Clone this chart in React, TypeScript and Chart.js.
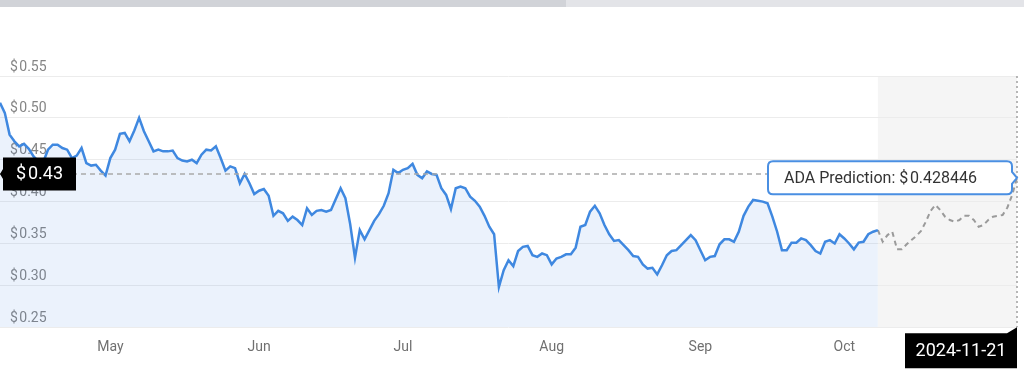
import React, { useEffect, useRef } from "react";
import { Chart, registerables } from "chart.js";

Chart.register(...registerables);

// Daily closing prices, 2024-04-08 .. 2024-10-08
const histValues: number[] = [
  0.518, 0.506, 0.480, 0.472, 0.466, 0.469, 0.463, 0.454, 0.448, 0.447,
  0.462, 0.468, 0.468, 0.464, 0.462, 0.452, 0.455, 0.464, 0.446, 0.443,
  0.444, 0.437, 0.431, 0.452, 0.462, 0.481, 0.482, 0.472, 0.485, 0.500,
  0.484, 0.472, 0.460, 0.462, 0.460, 0.460, 0.461, 0.452, 0.449, 0.448,
  0.450, 0.446, 0.456, 0.462, 0.461, 0.466, 0.452, 0.437, 0.442, 0.440,
  0.422, 0.433, 0.422, 0.409, 0.413, 0.415, 0.407, 0.383, 0.389, 0.386,
  0.377, 0.382, 0.378, 0.372, 0.392, 0.384, 0.389, 0.390, 0.388, 0.390,
  0.403, 0.416, 0.404, 0.373, 0.333, 0.366, 0.355, 0.366, 0.377, 0.385,
  0.395, 0.410, 0.438, 0.434, 0.438, 0.440, 0.445, 0.432, 0.428, 0.436,
  0.433, 0.432, 0.416, 0.408, 0.391, 0.416, 0.418, 0.416, 0.406, 0.401,
  0.394, 0.383, 0.370, 0.361, 0.298, 0.318, 0.330, 0.323, 0.341, 0.346,
  0.347, 0.336, 0.334, 0.338, 0.336, 0.325, 0.332, 0.334, 0.337, 0.337,
  0.345, 0.370, 0.372, 0.388, 0.395, 0.386, 0.372, 0.361, 0.353, 0.354,
  0.348, 0.342, 0.335, 0.334, 0.325, 0.320, 0.321, 0.313, 0.324, 0.336,
  0.341, 0.342, 0.348, 0.354, 0.360, 0.354, 0.342, 0.330, 0.334, 0.335,
  0.349, 0.355, 0.355, 0.352, 0.364, 0.383, 0.394, 0.402, 0.401, 0.400,
  0.398, 0.382, 0.364, 0.342, 0.342, 0.351, 0.351, 0.356, 0.354, 0.348,
  0.341, 0.338, 0.352, 0.354, 0.350, 0.361, 0.356, 0.350, 0.343, 0.351,
  0.352, 0.361, 0.364, 0.366,
];

const histStartUTC = Date.UTC(2024, 3, 8);

// Prediction dates (after the last historical day)
const predDates: string[] = [
  "2024-10-09", "2024-10-11", "2024-10-12", "2024-10-14", "2024-10-15",
  "2024-10-17", "2024-10-18", "2024-10-20", "2024-10-21", "2024-10-23",
  "2024-10-24", "2024-10-26", "2024-10-27", "2024-10-29", "2024-10-30",
  "2024-11-01", "2024-11-02", "2024-11-04", "2024-11-05", "2024-11-07",
  "2024-11-08", "2024-11-10", "2024-11-11", "2024-11-13", "2024-11-14",
  "2024-11-16", "2024-11-17", "2024-11-19", "2024-11-21",
];

// Prediction values, starting at the last historical day (2024-10-08)
const predValues: number[] = [
  0.366, 0.352, 0.360, 0.364, 0.343, 0.343, 0.349, 0.354, 0.359, 0.365,
  0.376, 0.389, 0.396, 0.390, 0.382, 0.378, 0.376, 0.378, 0.383, 0.383,
  0.378, 0.370, 0.372, 0.378, 0.382, 0.383, 0.384, 0.393, 0.408, 0.428446,
];

const yTickValues = [0.25, 0.3, 0.35, 0.4, 0.45, 0.5, 0.55];
const monthNames = ["Jan", "Feb", "Mar", "Apr", "May", "Jun", "Jul", "Aug", "Sep", "Oct", "Nov", "Dec"];

const crosshairValue = 0.433;
const crosshairLabel = "$\u200A0.43";
const predictionLabel = "ADA Prediction: $\u200A0.428446";
const targetDateLabel = "2024-11-21";

const FONT = "Roboto, 'Open Sans', sans-serif";

export default function App() {
  const ref = useRef<HTMLCanvasElement>(null);

  useEffect(() => {
    const histDates: string[] = [];
    for (let i = 0; i < histValues.length; i++) {
      histDates.push(new Date(histStartUTC + i * 86400000).toISOString().slice(0, 10));
    }
    const labels = histDates.concat(predDates);
    const predData: (number | null)[] = new Array(histValues.length - 1).fill(null).concat(predValues);

    const overlay = {
      id: "overlay",
      beforeDraw(chart: any) {
        const { ctx, chartArea: a, scales } = chart;
        const x0 = scales.x.getPixelForValue(histValues.length - 1);
        ctx.save();
        ctx.fillStyle = "#f5f5f5";
        ctx.fillRect(x0, a.top, a.right - x0, a.bottom - a.top);
        ctx.restore();
      },
      afterDatasetsDraw(chart: any) {
        const { ctx, chartArea: a, scales } = chart;
        const y = scales.y;
        const yc = y.getPixelForValue(crosshairValue);
        const yp = y.getPixelForValue(predValues[predValues.length - 1]);
        ctx.save();
        // crosshair horizontal
        ctx.strokeStyle = "#aaaaaa";
        ctx.lineWidth = 1.5;
        ctx.setLineDash([5, 4]);
        ctx.beginPath();
        ctx.moveTo(a.left, yc);
        ctx.lineTo(a.right, yc);
        ctx.stroke();
        // vertical dotted at end
        ctx.setLineDash([2, 3]);
        ctx.lineWidth = 1.5;
        ctx.strokeStyle = "#a0a0a0";
        ctx.beginPath();
        ctx.moveTo(a.right, a.top);
        ctx.lineTo(a.right, a.bottom);
        ctx.stroke();
        ctx.setLineDash([]);

        // price box on the left
        const bx = a.left + 3, bw = 73, bh = 33;
        ctx.fillStyle = "#000";
        ctx.beginPath();
        ctx.moveTo(a.left, yc);
        ctx.lineTo(bx, yc - 5);
        ctx.lineTo(bx, yc - bh / 2);
        ctx.lineTo(bx + bw, yc - bh / 2);
        ctx.lineTo(bx + bw, yc + bh / 2);
        ctx.lineTo(bx, yc + bh / 2);
        ctx.lineTo(bx, yc + 5);
        ctx.closePath();
        ctx.fill();
        ctx.fillStyle = "#fff";
        ctx.font = `18px ${FONT}`;
        ctx.textAlign = "center";
        ctx.textBaseline = "middle";
        ctx.fillText(crosshairLabel, bx + bw / 2, yc + 1);

        // prediction box
        const pr = a.right - 5, pl = a.right - 249, ph = 33, r = 5;
        const pt = yp - ph / 2, pb = yp + ph / 2;
        ctx.beginPath();
        ctx.moveTo(pl + r, pt);
        ctx.lineTo(pr - r, pt);
        ctx.quadraticCurveTo(pr, pt, pr, pt + r);
        ctx.lineTo(pr, yp - 6);
        ctx.lineTo(a.right, yp);
        ctx.lineTo(pr, yp + 6);
        ctx.lineTo(pr, pb - r);
        ctx.quadraticCurveTo(pr, pb, pr - r, pb);
        ctx.lineTo(pl + r, pb);
        ctx.quadraticCurveTo(pl, pb, pl, pb - r);
        ctx.lineTo(pl, pt + r);
        ctx.quadraticCurveTo(pl, pt, pl + r, pt);
        ctx.closePath();
        ctx.fillStyle = "#ffffff";
        ctx.fill();
        ctx.strokeStyle = "#4a8fe2";
        ctx.lineWidth = 2;
        ctx.stroke();
        ctx.fillStyle = "#333333";
        ctx.font = `16px ${FONT}`;
        ctx.textAlign = "left";
        ctx.fillText(predictionLabel, pl + 16, yp + 1);

        // date box under the axis end
        const dl = a.right - 112, dt = a.bottom + 6, dh = 35;
        ctx.fillStyle = "#000";
        ctx.beginPath();
        ctx.moveTo(dl, dt);
        ctx.lineTo(a.right - 10, dt);
        ctx.lineTo(a.right, a.bottom);
        ctx.lineTo(a.right, dt + dh);
        ctx.lineTo(dl, dt + dh);
        ctx.closePath();
        ctx.fill();
        ctx.fillStyle = "#fff";
        ctx.font = `18px ${FONT}`;
        ctx.textAlign = "center";
        ctx.fillText(targetDateLabel, dl + 56, dt + dh / 2 + 1);
        ctx.restore();
      },
    };

    const chart = new Chart(ref.current!, {
      type: "line",
      data: {
        labels,
        datasets: [
          {
            data: histValues,
            borderColor: "#3f88e0",
            borderWidth: 2.5,
            backgroundColor: "rgba(60,130,230,0.1)",
            fill: "start",
            pointRadius: 0,
            tension: 0,
          },
          {
            data: predData,
            borderColor: "#9a9a9a",
            borderWidth: 2,
            borderDash: [5, 4],
            fill: false,
            pointRadius: 0,
            tension: 0,
          },
        ],
      },
      options: {
        responsive: false,
        devicePixelRatio: 1,
        animation: false,
        layout: { padding: { top: 76, left: 0, right: 7, bottom: 7 } },
        plugins: { legend: { display: false }, tooltip: { enabled: false } },
        scales: {
          x: {
            grid: { display: false, drawTicks: false },
            border: { display: false },
            afterFit: (s: any) => {
              s.paddingLeft = 0;
              s.paddingRight = 0;
            },
            ticks: {
              autoSkip: false,
              maxRotation: 0,
              minRotation: 0,
              padding: 12,
              color: "#707070",
              font: { family: FONT, size: 14 },
              callback: (_v: any, i: number) => {
                const l = labels[i];
                if (i < histDates.length && l.endsWith("-01")) {
                  return monthNames[parseInt(l.slice(5, 7), 10) - 1];
                }
                return "";
              },
            },
          },
          y: {
            min: 0.25,
            max: 0.55,
            afterBuildTicks: (s: any) => {
              s.ticks = yTickValues.map((v) => ({ value: v }));
            },
            afterFit: (s: any) => {
              s.width = 0;
            },
            grid: { color: "#ececec", drawTicks: false },
            border: { display: false },
            ticks: {
              mirror: true,
              padding: 10,
              labelOffset: -9,
              color: "#858585",
              font: { family: FONT, size: 14 },
              callback: (v: any) => "$\u200A" + Number(v).toFixed(2),
            },
          },
        },
      },
      plugins: [overlay],
    });
    return () => chart.destroy();
  }, []);

  return (
    <div style={{ position: "absolute", left: 0, top: 0, width: 1024, height: 375, background: "#fff", overflow: "hidden" }}>
      <div style={{ position: "absolute", left: 0, top: 0, width: 566, height: 7, background: "#d1d3d8" }} />
      <div style={{ position: "absolute", left: 566, top: 0, width: 458, height: 7, background: "#e3e4e8" }} />
      <canvas ref={ref} width={1024} height={375} style={{ position: "absolute", left: 0, top: 0, width: 1024, height: 375 }} />
    </div>
  );
}
